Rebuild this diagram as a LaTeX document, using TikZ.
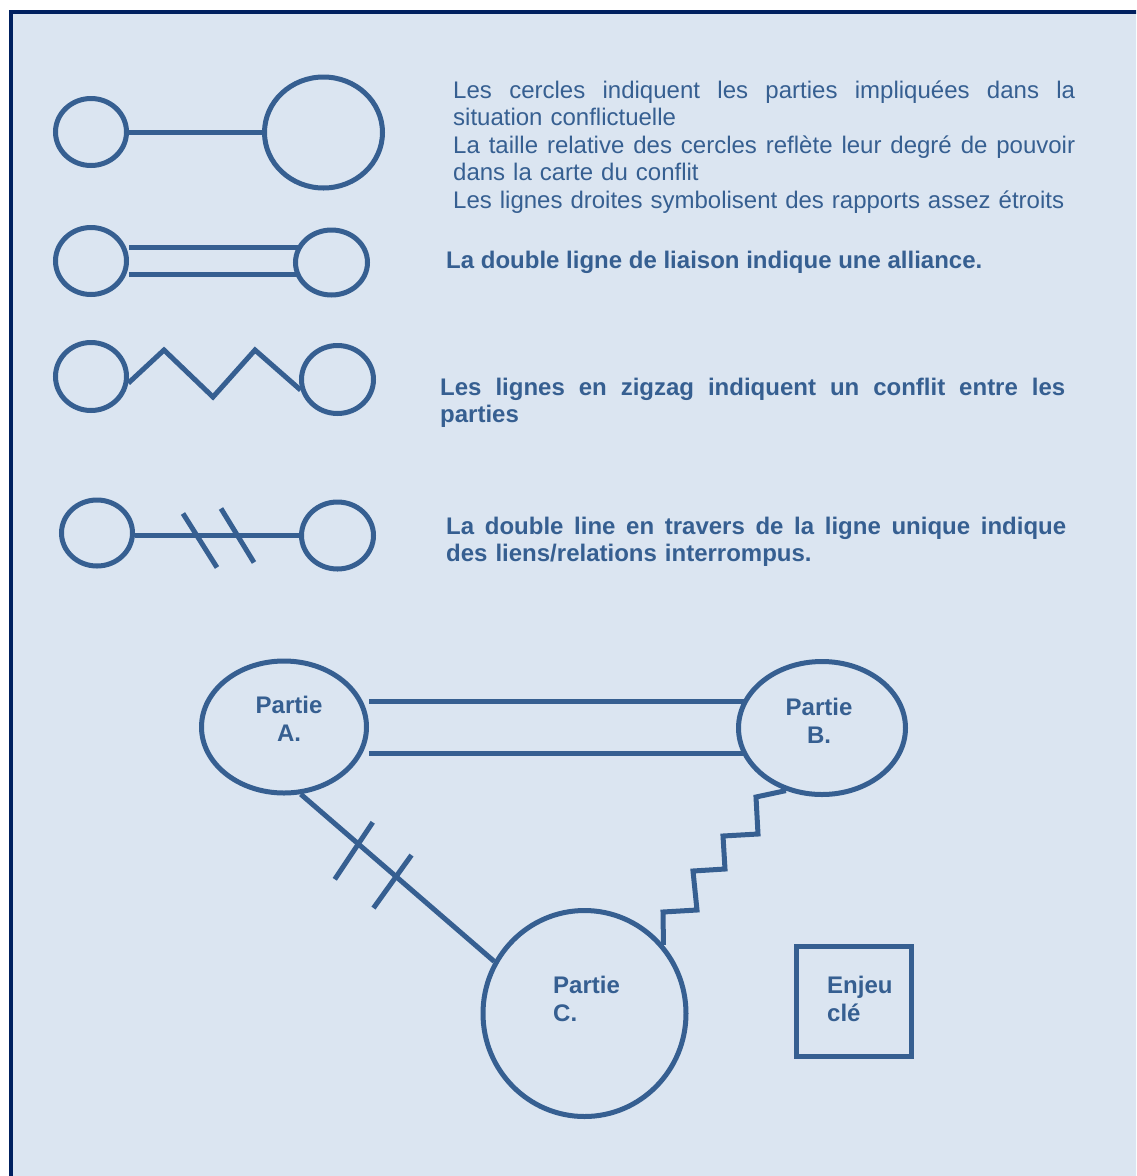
\documentclass[tikz,border=0pt]{standalone}
\usepackage{fontspec}
\setmainfont{Liberation Sans}
\usetikzlibrary{shapes.geometric}

\definecolor{panelfill}{HTML}{DBE5F1}
\definecolor{inkblue}{HTML}{365F91}
\definecolor{framenavy}{HTML}{002060}

\pgfdeclarelayer{panel}
\pgfdeclarelayer{links}
\pgfsetlayers{panel,links,main}

% a line set to a fixed width, the word spaces sharing the extra room
\newcommand\spreadline[2]{\leavevmode\hbox to #1{\spaceskip=0.278em plus 1fil\relax #2}}

\begin{document}
\begin{tikzpicture}[x=1pt,y=-1pt,
  party/.style={ellipse,draw=inkblue,fill=panelfill,line width=5pt,inner sep=0pt},
  issuebox/.style={rectangle,draw=inkblue,fill=panelfill,line width=5pt,inner sep=0pt,
    minimum width=115pt,minimum height=110pt},
  link/.style={draw=inkblue,line width=5pt},
  zig/.style={link,line join=miter},
  bond/.style={link,double=panelfill,double distance=#1},
  legendtxt/.style={anchor=base west,inner sep=0pt,text=inkblue,align=left,
    font=\fontsize{24}{27.5}\selectfont},
  legendbold/.style={legendtxt,font=\fontsize{24}{27.5}\selectfont\bfseries},
  partytxt/.style={inner sep=0pt,text=inkblue,font=\fontsize{24}{28}\selectfont\bfseries}
]
\useasboundingbox (0,0) rectangle (1136,1176);

% page and framed panel
\begin{pgfonlayer}{panel}
  \fill[white] (0,0) rectangle (1136,1176);
  \clip (0,0) rectangle (1136,1176);
  \draw[framenavy,line width=4pt,fill=panelfill] (11,12) rectangle (1160,1200);
\end{pgfonlayer}

% ---- legend symbols ----
\node[party,minimum width=71pt,minimum height=67pt]   (l1) at (91,132) {};
\node[party,minimum width=118pt,minimum height=111pt] (b1) at (323.5,132.5) {};

\node[party,minimum width=71pt,minimum height=67pt] (l2) at (91,261) {};
\node[party,minimum width=72pt,minimum height=65pt] (r2) at (331.5,262.5) {};

\node[party,minimum width=71pt,minimum height=68pt] (l3) at (91,376.5) {};
\node[party,minimum width=72pt,minimum height=68pt] (r3) at (337.5,379.5) {};

\node[party,minimum width=71pt,minimum height=66pt] (l4) at (97,533) {};
\node[party,minimum width=72pt,minimum height=67pt] (r4) at (337.5,535.5) {};

% ---- conflict map ----
\node[party,minimum width=165pt,minimum height=132pt] (A) at (284,727) {};
\node[party,minimum width=167pt,minimum height=133pt] (B) at (822,728) {};
\node[party,minimum width=203pt,minimum height=206pt] (C) at (584.5,1013.5) {};
\node[issuebox] (K) at (853.5,1001) {};

\node[partytxt,anchor=base,align=center,text width=80pt] (Atxt) at (289,713) {Partie\\A.};
\node[partytxt,anchor=base,align=center,text width=80pt] (Btxt) at (819,715) {Partie\\B.};
\node[partytxt,anchor=base west,align=left,text width=90pt] (Ctxt) at (553,993) {Partie\\C.};
\node[partytxt,anchor=base west,align=left,text width=80pt] (Ktxt) at (827,993) {Enjeu\\clé};

% ---- connectors ----
\begin{pgfonlayer}{links}
  % close relationship
  \draw[link] (l1) -- (l1 -| b1.west);
  % alliance
  \draw[bond=22pt] (l2) -- (l2 -| r2);
  % conflict
  \draw[zig] (l3.-10) -- (164,350) -- (213,397) -- (255,350) -- (r3.196);
  % broken relationship
  \draw[link] (l4.east |- r4.west) -- coordinate[pos=0.378] (cut1)
    coordinate[pos=0.625] (cut2) (r4.west);
  \draw[link] ([shift={(-14,-22)}]cut1) -- ([shift={(20,32)}]cut1);
  \draw[link] ([shift={(-16.5,-27)}]cut2) -- ([shift={(16.5,27)}]cut2);

  % A -- B alliance
  \draw[bond=47pt] (A) -- (A -| B);
  % A -- C broken
  \draw[link] (A.-76) -- coordinate[pos=0.30] (cutA) coordinate[pos=0.49] (cutB) (C.150);
  \draw[link] ([shift={(14,-22)}]cutA) -- ([shift={(-24,35)}]cutA);
  \draw[link] ([shift={(16,-21)}]cutB) -- ([shift={(-22,32)}]cutB);
  % B -- C conflict
  \draw[zig] (B.240) -- (756,797) -- (758,834) -- (723,836) -- (725,869)
    -- (693,871) -- (697,910) -- (663,912) -- (C.41);
\end{pgfonlayer}

% ---- legend texts ----
\node[legendtxt,text width=622pt] (t1) at (453,98)
  {\spreadline{622pt}{Les cercles indiquent les parties impliquées dans la}\\
   situation conflictuelle\\
   \spreadline{622pt}{La taille relative des cercles reflète leur degré de pouvoir}\\
   dans la carte du conflit\\
   Les lignes droites symbolisent des rapports assez étroits};

\node[legendbold] (t2) at (446,268) {La double ligne de liaison indique une alliance.};

\node[legendbold,text width=625pt] (t3) at (440,395)
  {\spreadline{625pt}{Les lignes en zigzag indiquent un conflit entre les}\\
   parties};

\node[legendbold,text width=620pt] (t4) at (446,534)
  {\spreadline{620pt}{La double line en travers de la ligne unique indique}\\
   des liens/relations interrompus.};
\end{tikzpicture}
\end{document}
